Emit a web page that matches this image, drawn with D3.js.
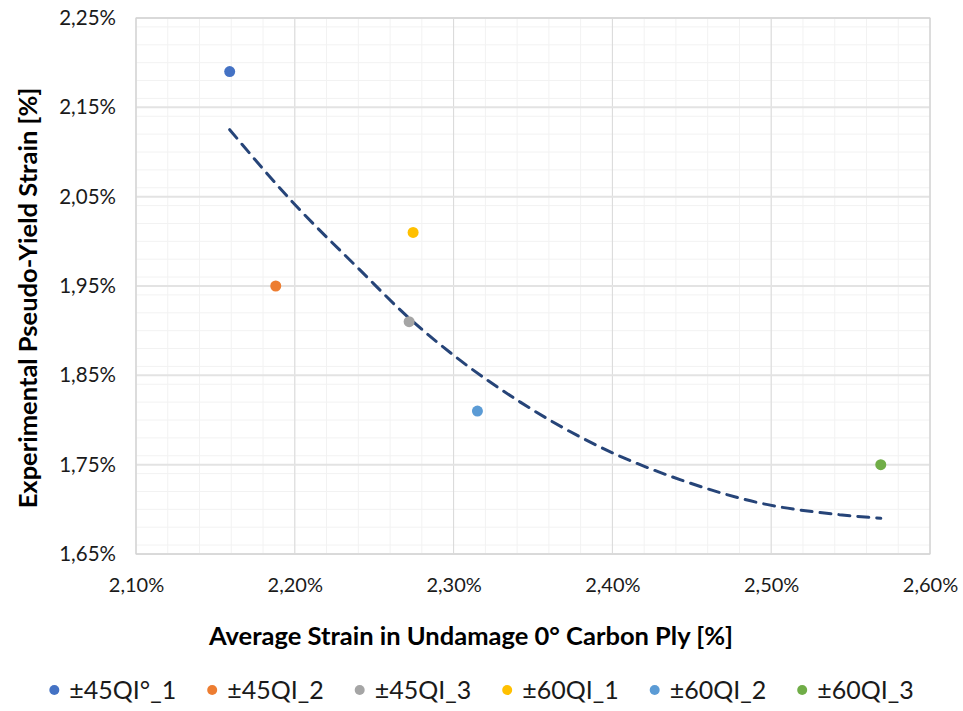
<!DOCTYPE html>
<html>
<head>
<meta charset="utf-8">
<script src="https://cdn.jsdelivr.net/npm/d3@7"></script>
<style>
  body { margin: 0; background: #fff; }
  svg { font-family: Lato, "Open Sans", sans-serif; }
</style>
</head>
<body>
<div class="chart"></div>
<script>
var width = 963,
    height = 711;

// values (strain in %)
let names = ["±45QI°_1", "±45QI_2", "±45QI_3", "±60QI_1", "±60QI_2", "±60QI_3"];
let avgStrain = [2.159, 2.188, 2.272, 2.2745, 2.315, 2.569];
let yieldStrain = [2.19, 1.95, 1.91, 2.01, 1.81, 1.75];
let colors = ["#4472C4", "#ED7D31", "#A5A5A5", "#FFC000", "#5B9BD5", "#70AD47"];

// trendline
let trendX = [2.159, 2.197, 2.241, 2.272, 2.304, 2.342, 2.392, 2.443, 2.493, 2.543, 2.569];
let trendY = [2.125, 2.047, 1.968, 1.914, 1.867, 1.820, 1.770, 1.733, 1.707, 1.694, 1.690];

let xTicks = [2.10, 2.20, 2.30, 2.40, 2.50, 2.60];
let yTicks = [1.65, 1.75, 1.85, 1.95, 2.05, 2.15, 2.25];

let plot = {left: 136, right: 930, top: 18, bottom: 554};

let loc = d3.formatLocale({decimal: ",", thousands: ".", grouping: [3], currency: ["", ""]});
let fmt = loc.format(".2f");

let svg = d3.select(".chart")
    .append("svg")
    .attr("width", width)
    .attr("height", height);

let x = d3.scaleLinear().domain([2.10, 2.60]).range([plot.left, plot.right]);
let y = d3.scaleLinear().domain([1.65, 2.25]).range([plot.bottom, plot.top]);

// minor grid (every 0.02%)
let xMinor = x.ticks(25);
let yMinor = y.ticks(30);

svg.append("g")
    .selectAll("line")
    .data(xMinor)
    .join("line")
    .attr("x1", d => x(d)).attr("x2", d => x(d))
    .attr("y1", plot.top).attr("y2", plot.bottom)
    .attr("stroke", "#f2f2f2")
    .attr("stroke-width", 1);

svg.append("g")
    .selectAll("line")
    .data(yMinor)
    .join("line")
    .attr("y1", d => y(d)).attr("y2", d => y(d))
    .attr("x1", plot.left).attr("x2", plot.right)
    .attr("stroke", "#f2f2f2")
    .attr("stroke-width", 1);

// major grid
svg.append("g")
    .selectAll("line")
    .data(xTicks)
    .join("line")
    .attr("x1", d => x(d)).attr("x2", d => x(d))
    .attr("y1", plot.top).attr("y2", plot.bottom)
    .attr("stroke", "#d9d9d9")
    .attr("stroke-width", 1);

svg.append("g")
    .selectAll("line")
    .data(yTicks)
    .join("line")
    .attr("y1", d => y(d)).attr("y2", d => y(d))
    .attr("x1", plot.left).attr("x2", plot.right)
    .attr("stroke", "#e3e3e3")
    .attr("stroke-width", 2);

svg.append("rect")
    .attr("x", plot.left).attr("y", plot.top)
    .attr("width", plot.right - plot.left)
    .attr("height", plot.bottom - plot.top)
    .attr("fill", "none")
    .attr("stroke", "#d0d0d0");

// axes labels
let xAxis = svg.append("g")
    .attr("transform", `translate(0, ${plot.bottom + 31})`)
    .call(d3.axisBottom(x).tickValues(xTicks).tickSize(0).tickFormat(d => fmt(d) + "%"));
xAxis.select(".domain").remove();
xAxis.selectAll("text")
    .attr("dy", "0.35em")
    .attr("y", 0)
    .style("font-size", "20px")
    .style("font-family", "Lato, sans-serif")
    .attr("fill", "#1a1a1a");

let yAxis = svg.append("g")
    .attr("transform", `translate(${plot.left - 20}, 0)`)
    .call(d3.axisLeft(y).tickValues(yTicks).tickSize(0).tickFormat(d => fmt(d) + "%"));
yAxis.select(".domain").remove();
yAxis.selectAll("text")
    .attr("x", 0)
    .style("font-size", "20.5px")
    .style("font-family", "Lato, sans-serif")
    .attr("fill", "#1a1a1a");

// axis titles
svg.append("text")
    .attr("x", 471)
    .attr("y", 636)
    .attr("dy", "0.35em")
    .style("text-anchor", "middle")
    .style("font-size", "25.5px")
    .style("font-weight", "bold")
    .attr("fill", "#000")
    .text("Average Strain in Undamage 0° Carbon Ply [%]");

svg.append("text")
    .attr("transform", "translate(28, 298) rotate(-90)")
    .attr("dy", "0.35em")
    .style("text-anchor", "middle")
    .style("font-size", "25.5px")
    .style("font-weight", "bold")
    .attr("fill", "#000")
    .text("Experimental Pseudo-Yield Strain [%]");

// trendline
svg.append("path")
    .datum(trendX.map((d, i) => [d, trendY[i]]))
    .attr("d", d3.line().curve(d3.curveMonotoneX).x(d => x(d[0])).y(d => y(d[1])))
    .attr("fill", "none")
    .attr("stroke", "#264478")
    .attr("stroke-width", 3)
    .attr("stroke-dasharray", "11,8")
    .attr("stroke-linecap", "round");

// points
svg.append("g")
    .selectAll("circle")
    .data(names)
    .join("circle")
    .attr("cx", (d, i) => x(avgStrain[i]))
    .attr("cy", (d, i) => y(yieldStrain[i]))
    .attr("r", 5.5)
    .attr("fill", (d, i) => colors[i]);

// legend
let legend = svg.append("g").attr("transform", "translate(0, 690)");
let items = legend.selectAll("g")
    .data(names)
    .join("g");
items.append("circle")
    .attr("r", 5)
    .attr("cx", 5)
    .attr("fill", (d, i) => colors[i]);
items.append("text")
    .attr("x", 20)
    .attr("dy", "0.35em")
    .style("font-size", "25px")
    .attr("fill", "#1a1a1a")
    .text(d => d);

let widths = [];
items.each(function(){
    widths.push(20 + d3.select(this).select("text").node().getComputedTextLength());
});
let gap = 31;
let total = d3.sum(widths) + gap * (widths.length - 1);
let pos = (width - total) / 2;
items.attr("transform", function(d, i){
    let p = pos;
    pos += widths[i] + gap;
    return `translate(${p}, 0)`;
});
</script>
</body>
</html>
